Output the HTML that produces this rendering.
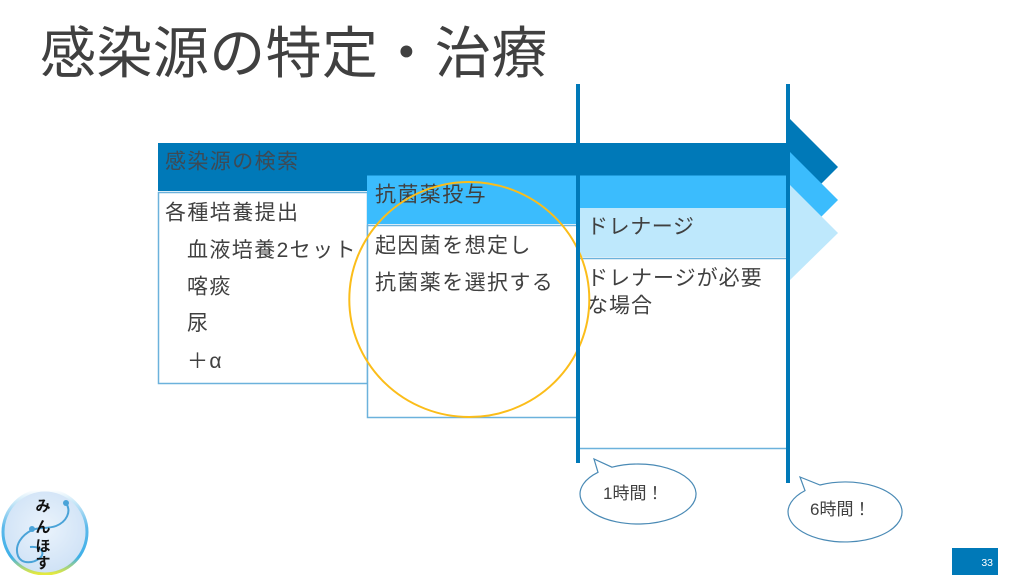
<!DOCTYPE html>
<html><head><meta charset="utf-8">
<style>
html,body{margin:0;padding:0;background:#fff;}
svg{display:block;}
text{font-family:"Liberation Sans","Noto Sans CJK JP",sans-serif;}
</style></head>
<body>
<svg width="1024" height="575" viewBox="0 0 1024 575" xmlns="http://www.w3.org/2000/svg">
<defs>
<radialGradient id="lg" cx="50%" cy="45%" r="55%">
<stop offset="0" stop-color="#eaf3fc"/><stop offset="1" stop-color="#cfe2f6"/>
</radialGradient>
<linearGradient id="lb" x1="0" y1="0" x2="0" y2="1">
<stop offset="0" stop-color="#ffffff"/><stop offset="0.45" stop-color="#5ab8ea"/><stop offset="0.8" stop-color="#3fb0e8"/><stop offset="1" stop-color="#e6ea3c"/>
</linearGradient>
</defs>

<!-- title -->
<text x="40" y="73" font-size="56" fill="#404040" letter-spacing="0.4">感染源の特定・治療</text>

<!-- dark bar -->
<rect x="158" y="143" width="632" height="48" fill="#0079b8"/>
<text x="165" y="168.5" font-size="21" fill="#3d4a55" letter-spacing="1.4">感染源の検索</text>

<!-- left box -->
<rect x="158.5" y="192.5" width="209" height="191" fill="#fff" stroke="#6cb2dc" stroke-width="1.5"/>
<text x="165" y="219.6" font-size="21" fill="#404040" letter-spacing="1.4">各種培養提出</text>
<text x="187" y="257" font-size="21" fill="#404040" letter-spacing="1.4">血液培養2セット</text>
<text x="187" y="293.5" font-size="21" fill="#404040" letter-spacing="1.4">喀痰</text>
<text x="187" y="330" font-size="21" fill="#404040" letter-spacing="1.4">尿</text>
<text x="187" y="368" font-size="21" fill="#404040" letter-spacing="1.4">＋α</text>

<!-- light bar -->
<rect x="367" y="175.5" width="423" height="48.5" fill="#3bbcfd"/>
<text x="375" y="201.6" font-size="21" fill="#404040" letter-spacing="1.4">抗菌薬投与</text>

<!-- middle box -->
<rect x="367.5" y="225.5" width="210" height="192" fill="#fff" stroke="#6cb2dc" stroke-width="1.5"/>
<text x="375" y="252.6" font-size="21" fill="#404040" letter-spacing="1.4">起因菌を想定し</text>
<text x="375" y="289.3" font-size="21" fill="#404040" letter-spacing="1.4">抗菌薬を選択する</text>

<!-- pale bar -->
<rect x="578" y="208" width="212" height="49" fill="#bee8fc"/>
<text x="587" y="233.6" font-size="21" fill="#404040" letter-spacing="0.6">ドレナージ</text>

<!-- right box -->
<rect x="578" y="258.5" width="210" height="190" fill="#fff" stroke="#6cb2dc" stroke-width="1.5"/>
<text x="587" y="285" font-size="21" fill="#404040" letter-spacing="1">ドレナージが必要</text>
<text x="587" y="312.6" font-size="21" fill="#404040" letter-spacing="1">な場合</text>

<!-- arrow heads -->
<polygon points="790,119 838,167 790,215" fill="#0079b8"/>
<polygon points="790,152 838,200 790,248" fill="#3bbcfd"/>
<polygon points="790,185 838,233 790,280" fill="#bee8fc"/>

<!-- yellow circle -->
<ellipse cx="469.3" cy="299.5" rx="120" ry="117.5" fill="none" stroke="#fbbd1a" stroke-width="2"/>

<!-- vertical lines -->
<rect x="576" y="84" width="4" height="379" fill="#0079b8"/>
<rect x="786" y="84" width="4" height="399" fill="#0079b8"/>

<!-- callouts -->
<path d="M 598,472.3 L 594,459 L 612,467.2 A 58 30 0 1 1 598,472.3 Z" fill="#fff" stroke="#4a8ab5" stroke-width="1.2"/>
<text x="603" y="499" font-size="17" fill="#404040">1時間！</text>
<path d="M 805,490.6 L 800,477 L 820,485 A 57 30 0 1 1 805,490.6 Z" fill="#fff" stroke="#4a8ab5" stroke-width="1.2"/>
<text x="810" y="515" font-size="17" fill="#404040">6時間！</text>

<!-- logo -->
<circle cx="45" cy="532" r="42" fill="url(#lg)" stroke="url(#lb)" stroke-width="3"/>
<path d="M 66,503 C 72,512 66,522 56,526 C 48,529 38,527 32,530 C 22,535 14,545 18,556 C 22,565 34,563 40,558 C 46,552 40,546 30,547" fill="none" stroke="#4aa3d8" stroke-width="2"/>
<circle cx="66" cy="503" r="3" fill="#4aa3d8"/>
<circle cx="32" cy="529" r="3" fill="#4aa3d8"/>
<text x="43" y="511" font-size="15" font-weight="bold" fill="#111" text-anchor="middle">み</text>
<text x="43" y="532" font-size="15" font-weight="bold" fill="#111" text-anchor="middle">ん</text>
<text x="43" y="551" font-size="15" font-weight="bold" fill="#111" text-anchor="middle">ほ</text>
<text x="43" y="568" font-size="15" font-weight="bold" fill="#111" text-anchor="middle">す</text>

<!-- page number -->
<rect x="952" y="548" width="46" height="27" fill="#0079b8"/>
<text x="993" y="566" font-size="10.5" fill="#fff" text-anchor="end">33</text>
</svg>
</body></html>
